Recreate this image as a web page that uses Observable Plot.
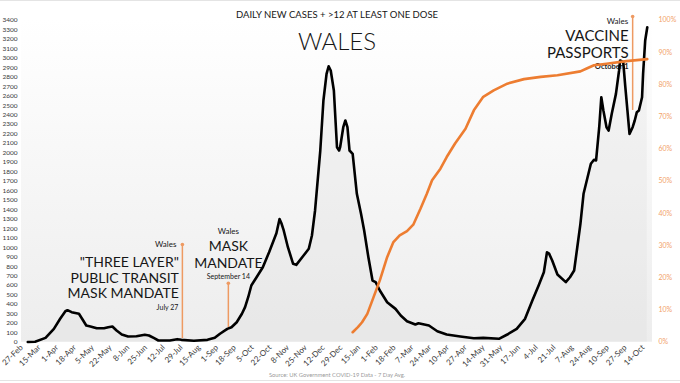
<!DOCTYPE html>
<html>
<head>
<meta charset="utf-8">
<script src="https://cdn.jsdelivr.net/npm/d3@7"></script>
<script src="https://cdn.jsdelivr.net/npm/@observablehq/plot@0.6"></script>
<style>
  html, body { margin: 0; padding: 0; background: #fff; }
  #wrap { position: relative; width: 680px; height: 383px; overflow: hidden; }
  .hline { position: absolute; left: 0; width: 680px; height: 1px; background: #e4e4e4; }
</style>
</head>
<body>
<div id="wrap"><div class="hline" style="top:0"></div><div class="hline" style="top:380px"></div></div>
<script>
const titleText = "DAILY NEW CASES + >12 AT LEAST ONE DOSE";
const regionText = "WALES";
const sourceText = "Source: UK Government COVID-19 Data - 7 Day Avg.";

const caseDates = ["2020-03-04","2020-03-11","2020-03-21","2020-03-29","2020-04-04","2020-04-09","2020-04-11","2020-04-15","2020-04-22","2020-04-25","2020-04-29","2020-05-03","2020-05-09","2020-05-16","2020-05-20","2020-05-24","2020-05-28","2020-06-02","2020-06-08","2020-06-16","2020-06-24","2020-06-28","2020-07-03","2020-07-07","2020-07-18","2020-07-25","2020-07-29","2020-08-10","2020-08-23","2020-08-30","2020-09-04","2020-09-11","2020-09-15","2020-09-20","2020-09-25","2020-09-28","2020-10-01","2020-10-04","2020-10-09","2020-10-15","2020-10-21","2020-10-28","2020-10-31","2020-11-02","2020-11-04","2020-11-08","2020-11-13","2020-11-16","2020-11-23","2020-11-28","2020-12-01","2020-12-04","2020-12-09","2020-12-12","2020-12-15","2020-12-17","2020-12-19","2020-12-22","2020-12-25","2020-12-27","2020-12-28","2020-12-31","2021-01-02","2021-01-04","2021-01-06","2021-01-09","2021-01-13","2021-01-17","2021-01-20","2021-01-24","2021-01-28","2021-01-31","2021-02-04","2021-02-11","2021-02-19","2021-02-24","2021-03-02","2021-03-10","2021-03-13","2021-03-23","2021-03-31","2021-04-09","2021-04-22","2021-05-05","2021-05-14","2021-05-29","2021-06-06","2021-06-15","2021-06-23","2021-06-30","2021-07-06","2021-07-11","2021-07-14","2021-07-16","2021-07-19","2021-07-24","2021-08-01","2021-08-05","2021-08-09","2021-08-12","2021-08-15","2021-08-18","2021-08-25","2021-08-28","2021-08-30","2021-09-02","2021-09-04","2021-09-06","2021-09-09","2021-09-11","2021-09-14","2021-09-18","2021-09-21","2021-09-22","2021-09-25","2021-09-27","2021-09-29","2021-10-01","2021-10-04","2021-10-06","2021-10-08","2021-10-10","2021-10-13","2021-10-14","2021-10-16","2021-10-18"];
const caseValues = [2,5,46,141,247,327,338,317,300,247,176,166,148,148,158,166,124,81,60,63,78,71,42,18,18,32,25,15,25,46,89,141,158,211,300,370,475,599,686,792,950,1150,1300,1250,1180,1003,828,817,915,986,1127,1391,2024,2552,2834,2914,2869,2658,2059,2024,2059,2270,2341,2270,2024,1989,1567,1356,1179,900,651,634,546,422,352,282,222,187,200,176,116,81,60,42,46,36,81,141,247,440,599,739,950,935,863,715,634,686,757,1003,1250,1567,1884,1926,1919,2270,2587,2447,2270,2235,2411,2622,2869,2975,2957,2693,2447,2200,2270,2341,2429,2447,2587,2834,3186,3326];

const doseDates = ["2021-01-09","2021-01-14","2021-01-18","2021-01-23","2021-01-29","2021-02-04","2021-02-11","2021-02-17","2021-02-23","2021-03-02","2021-03-08","2021-03-15","2021-03-21","2021-03-26","2021-04-03","2021-04-09","2021-04-17","2021-04-27","2021-05-05","2021-05-14","2021-05-24","2021-06-06","2021-06-22","2021-07-08","2021-07-24","2021-08-15","2021-08-21","2021-08-28","2021-09-09","2021-09-28","2021-10-18"];
const dosePct = [3.1,4.7,6.2,8.8,14.0,19.2,26.4,31.1,33.2,34.5,36.5,41.5,46.1,50.3,53.9,57.5,61.7,66.3,72.0,76.2,78.2,80.3,81.7,82.4,82.9,84.1,85.0,86.0,86.5,87.3,87.9];

const xTickDates = ["2020-02-27","2020-03-15","2020-04-01","2020-04-18","2020-05-05","2020-05-22","2020-06-08","2020-06-25","2020-07-12","2020-07-29","2020-08-15","2020-09-01","2020-09-18","2020-10-05","2020-10-22","2020-11-08","2020-11-25","2020-12-12","2020-12-29","2021-01-15","2021-02-01","2021-02-18","2021-03-07","2021-03-24","2021-04-10","2021-04-27","2021-05-14","2021-05-31","2021-06-17","2021-07-04","2021-07-21","2021-08-07","2021-08-24","2021-09-10","2021-09-27","2021-10-14"];
const yTicks = [0,100,200,300,400,500,600,700,800,900,1000,1100,1200,1300,1400,1500,1600,1700,1800,1900,2000,2100,2200,2300,2400,2500,2600,2700,2800,2900,3000,3100,3200,3300,3400];
const pctTicks = [0,10,20,30,40,50,60,70,80,90,100];

const annoDates = ["2020-07-30","2020-09-12","2021-10-04"];
const annoTop = [1032, 623, 3439];
const annoBottom = [39, 155, 2447];
const annoPlace = ["Wales","Wales","Wales"];
const annoHeads = [["\"THREE LAYER\"","PUBLIC TRANSIT","MASK MANDATE"],["MASK","MANDATE"],["VACCINE","PASSPORTS"]];
const annoWhen = ["July 27","September 14","October 1"];

// ---- build tables
const cases = caseDates.map((d,i)=>({date:new Date(d), value:caseValues[i]}));
const doses = doseDates.map((d,i)=>({date:new Date(d), pct:dosePct[i]}));
const anno = annoDates.map((d,i)=>({date:new Date(d), top:annoTop[i], bottom:annoBottom[i], place:annoPlace[i], head:annoHeads[i].join("\n"), when:annoWhen[i]}));

const yMax = 3400;
const pctScale = yMax/100;
const orange = "#ED7D31";
const orangeLight = "#f2a26b";
const annoColor = "#ee9a62";
const ink = "#161616";
const font = "Lato, 'Open Sans', sans-serif";

const background = (index, scales, values, dims) => {
  const g = d3.create("svg:g");
  const grad = g.append("defs").append("linearGradient").attr("id","bg").attr("x1",0).attr("y1",0).attr("x2",0).attr("y2",1);
  grad.append("stop").attr("offset","0%").attr("stop-color","#ffffff");
  grad.append("stop").attr("offset","100%").attr("stop-color","#ededed");
  g.append("rect")
    .attr("x", dims.marginLeft).attr("y", dims.marginTop)
    .attr("width", dims.width - dims.marginLeft - dims.marginRight)
    .attr("height", dims.height - dims.marginTop - dims.marginBottom)
    .attr("fill","url(#bg)");
  return g.node();
};

const a1 = [anno[0]], a2 = [anno[1]], a3 = [anno[2]];

const chart = Plot.plot({
  width: 680,
  height: 383,
  marginLeft: 21,
  marginRight: 28,
  marginTop: 19.7,
  marginBottom: 41.3,
  style: {fontFamily: font, background: "transparent", overflow: "visible"},
  x: {type: "utc", domain: [new Date("2020-02-27"), new Date("2021-10-23")]},
  y: {domain: [0, yMax]},
  marks: [
    background,
    Plot.areaY(cases, {x: "date", y: "value", fill: "#d6d6d6", fillOpacity: 0.22}),
    Plot.axisY({ticks: yTicks, tickFormat: d => String(d), tickSize: 0, tickPadding: 4, fontSize: 6.5, fill: "#3a3a3a", label: null}),
    Plot.axisY({anchor: "right", ticks: pctTicks.map(p => p*pctScale), tickFormat: d => Math.round(d/pctScale) + "%", tickSize: 0, tickPadding: 6, fontSize: 7, fill: orangeLight, label: null}),
    Plot.axisX({ticks: xTickDates.map(d => new Date(d)), tickFormat: d3.utcFormat("%-d-%b"), tickRotate: -45, tickSize: 0, tickPadding: 4, fontSize: 8, fill: "#3a3a3a", label: null}),

    // titles
    Plot.text([titleText], {frameAnchor: "top", dy: -8.7, fontSize: 9.5, fill: ink}),
    Plot.text([regionText], {frameAnchor: "top", dy: 12.5, fontSize: 24, fontWeight: 300, fill: ink}),
    Plot.text([sourceText], {frameAnchor: "bottom", dy: 34.5, fontSize: 5.8, fill: "#9a9a9a"}),

    // annotation 1
    Plot.text(a1, {x: "date", y: "top", text: "place", textAnchor: "end", dx: -6, fontSize: 8, fill: ink}),
    Plot.text(a1, {x: "date", y: "top", text: "head", textAnchor: "end", dx: -3.5, dy: 33.5, lineHeight: 1.11, fontSize: 14, fill: ink}),
    Plot.text(a1, {x: "date", y: "top", text: "when", textAnchor: "end", dx: -4, dy: 63, fontSize: 7, fill: ink}),
    // annotation 2
    Plot.text(a2, {x: "date", y: "top", text: "place", dy: -51.7, fontSize: 8, fill: ink}),
    Plot.text(a2, {x: "date", y: "top", text: "head", dy: -29.3, lineHeight: 1.19, fontSize: 14, fill: ink}),
    Plot.text(a2, {x: "date", y: "top", text: "when", dy: -6.7, fontSize: 7, fill: ink}),
    // annotation 3
    Plot.text(a3, {x: "date", y: "top", text: "place", textAnchor: "end", dx: -4.5, dy: 4.7, fontSize: 8, fill: ink}),
    Plot.text(a3, {x: "date", y: "top", text: "head", textAnchor: "end", dx: -4, dy: 27.7, lineHeight: 1.15, fontSize: 15, fill: ink}),
    Plot.text(a3, {x: "date", y: "top", text: "when", textAnchor: "end", dx: -4, dy: 49.7, fontSize: 7.5, fontWeight: "bold", fill: "#222"}),

    // annotation arrows
    Plot.ruleX(anno, {x: "date", y1: "bottom", y2: "top", stroke: annoColor, strokeWidth: 1.5}),
    Plot.dot(anno, {x: "date", y: "top", r: 1.8, fill: annoColor}),

    // data lines
    Plot.line(cases, {x: "date", y: "value", stroke: "#000", strokeWidth: 2.6, curve: "linear", strokeLinejoin: "round"}),
    Plot.line(doses, {x: "date", y: d => d.pct * pctScale, stroke: orange, strokeWidth: 2.6, curve: "linear"})
  ]
});
document.getElementById("wrap").appendChild(chart);
chart.style.position = "absolute";
chart.style.left = "0";
chart.style.top = "0";
</script>
</body>
</html>
